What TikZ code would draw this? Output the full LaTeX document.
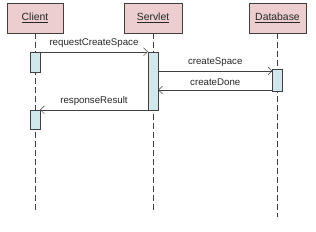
\documentclass[tikz,border=0pt]{standalone}
\usepackage{fontspec}
\setmainfont{Liberation Sans}
\usetikzlibrary{arrows.meta,positioning}
\definecolor{headpink}{RGB}{236,206,206}
\definecolor{actblue}{RGB}{210,231,236}
\definecolor{linegray}{RGB}{64,64,64}

\begin{document}
\begin{tikzpicture}[
  x=1pt, y=-1pt,
  font=\fontsize{9.7}{11}\selectfont,
  head/.style={rectangle, draw=linegray, fill=headpink, minimum height=30pt,
               inner sep=0pt, text=black!85, font=\fontsize{10.4}{12}\selectfont},
  act/.style={rectangle, draw=linegray, fill=actblue, minimum width=10pt,
              inner sep=0pt},
  life/.style={draw=linegray, line width=0.9pt, dash pattern=on 6pt off 3pt},
  msg/.style={draw=linegray, -{Straight Barb[length=4pt,width=8pt]}, thin},
  lbl/.style={above=3pt, text=black!85, inner sep=1pt},
]
\useasboundingbox (0,0) rectangle (316,232);

% object heads
\node[head, minimum width=56pt] (client) at (35,18)    {\underline{Client}};
\node[head, minimum width=58pt] (servlet) at (153,18)  {\underline{Servlet}};
\node[head, minimum width=57pt] (db) at (277.5,18)     {\underline{Database}};

% lifelines
\coordinate (clientend) at (35,213);
\coordinate (servletend) at (153,213);
\coordinate (dbend) at (277.5,217);
\draw[life] (client) -- (clientend);
\draw[life] (servlet) -- (servletend);
\draw[life] (db) -- (dbend);

% activations
\node[act, minimum height=20pt] (cact1) at (35,62) {};
\node[act, minimum height=58pt] (sact) at (153,81) {};
\node[act, minimum height=22pt] (dact) at (277.5,80) {};
\node[act, minimum height=19pt] (cact2) at (35,119.5) {};

% messages
\draw[msg] (cact1.north east) -- (cact1.north east -| sact.west)
  node[lbl, midway] {requestCreateSpace};
\draw[msg] (sact.east |- 0,71) -- (dact.west |- 0,71)
  node[lbl, midway] {createSpace};
\draw[msg] (dact.west |- 0,90) -- (sact.east |- 0,90)
  node[lbl, midway] {createDone};
\draw[msg] (sact.west |- cact2.north) -- (cact2.north east)
  node[lbl, midway] {responseResult};

\end{tikzpicture}
\end{document}
